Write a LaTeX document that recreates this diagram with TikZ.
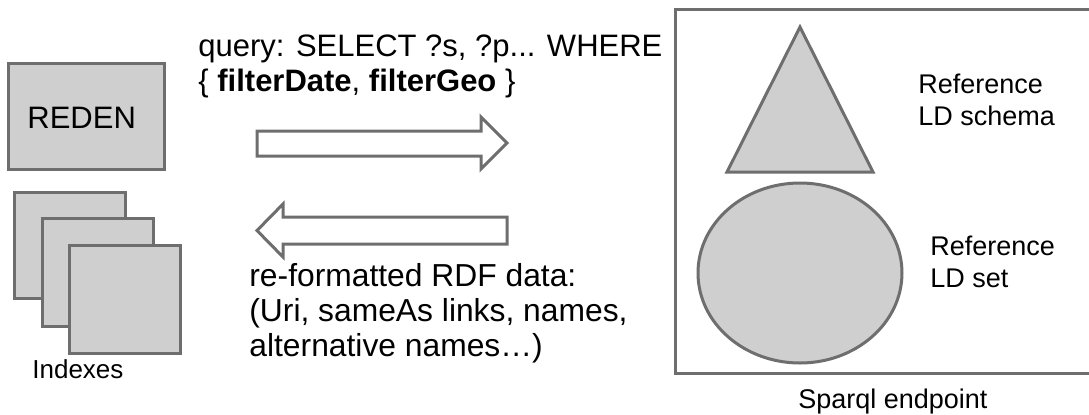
\documentclass[tikz,border=0pt]{standalone}
\usepackage{fontspec}
\setmainfont{Liberation Sans}
\usetikzlibrary{calc}
\definecolor{boxgray}{HTML}{CFCFCF}
\definecolor{linegray}{HTML}{6E6E6E}
\tikzset{
	greybox/.style={draw=linegray, fill=boxgray, line width=1.5pt},
	blockarrow/.style={draw=linegray, fill=white, line width=1.5pt, line join=miter},
	txt/.style={inner sep=0pt, anchor=base west, align=left, font=\fontsize{15.5}{17.5}\selectfont},
	smalltxt/.style={txt, font=\fontsize{13.5}{16}\selectfont},
}

\begin{document}
\begin{tikzpicture}[x=0.5pt, y=-0.5pt]
			%%%%% START %%%%%
			\useasboundingbox (0, 0) rectangle (1089, 414);
			
			% client side
			\draw[greybox] (8, 63) rectangle (164, 169);
			\node[txt] (reden) at (27, 128) {REDEN};
			
			\draw[greybox] (14, 192) rectangle (125, 298);
			\draw[greybox] (42, 218) rectangle (153, 326);
			\draw[greybox] (69, 245) rectangle (180, 353);
			\node[txt, font=\fontsize{13}{16}\selectfont] (indexes) at (32, 378) {Indexes};
			
			% exchange (base anchor = last line)
			\node[txt] (query) at (198, 91) {query: SELECT ?s, ?p... WHERE\\\{ \textbf{filterDate}, \textbf{filterGeo} \}};
			\draw[blockarrow] (257, 131) -- (481, 131) -- (481, 117) -- (507, 143) -- (481, 169) -- (481, 156) -- (257, 156) -- cycle;
			\draw[blockarrow] (507, 217) -- (283, 217) -- (283, 204) -- (257, 230.5) -- (283, 257) -- (283, 244) -- (507, 244) -- cycle;
			\node[txt, font=\fontsize{15.9}{17.3}\selectfont] (rdfdata) at (249, 356) {re-formatted RDF data:\\(Uri, sameAs links, names,\\alternative names…)};
			
			% sparql endpoint
			\draw[draw=linegray, line width=1.5pt] (675, 9) rectangle (1095, 373);
			\draw[greybox] (800, 27) -- (873, 172) -- (727, 172) -- cycle;
			\draw[greybox] (800, 273) ellipse (51pt and 45pt);
			\node[smalltxt] (schema) at (918, 125) {Reference\\LD schema};
			\node[smalltxt] (ldset) at (930, 287) {Reference\\LD set};
			\node[smalltxt] (endpoint) at (798, 408) {Sparql endpoint};
			
			%%%%% END %%%%%
\end{tikzpicture}
\end{document}
